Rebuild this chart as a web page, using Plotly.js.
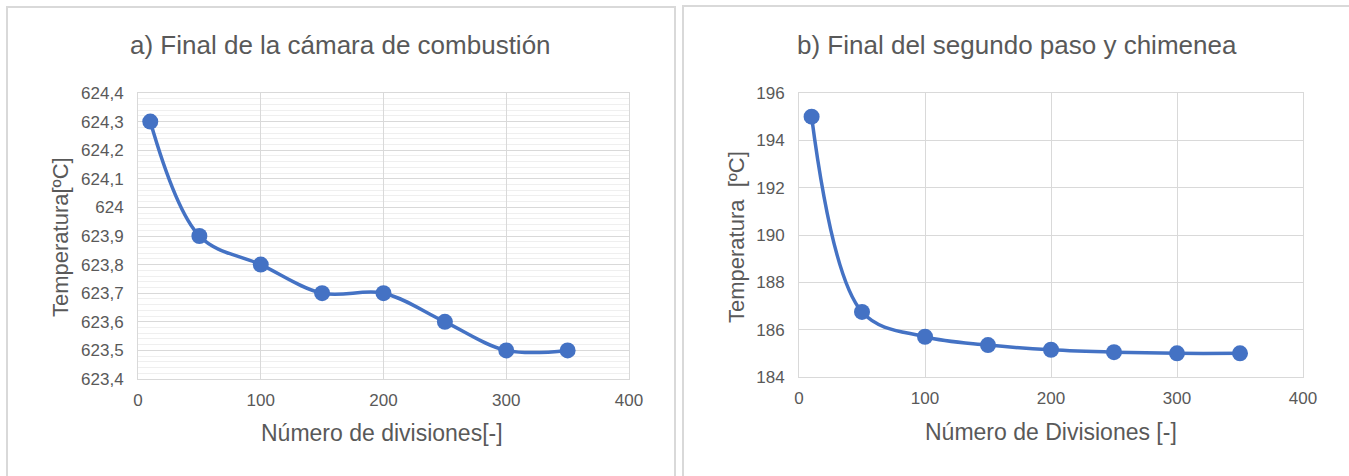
<!DOCTYPE html>
<html>
<head>
<meta charset="utf-8">
<script src="https://cdn.plot.ly/plotly-3.0.1.min.js"></script>
<style>html,body{margin:0;padding:0;background:#fff;}#chart{width:1349px;height:476px;}</style>
</head>
<body>
<div id="chart"></div>
<script>
const divisions = [10, 50, 100, 150, 200, 250, 300, 350];
const tempCamara = [624.3, 623.9, 623.8, 623.7, 623.7, 623.6, 623.5, 623.5];
const tempChimenea = [195.0, 186.75, 185.7, 185.35, 185.15, 185.05, 185.0, 185.0];
const titleA = "a) Final de la cámara de combustión";
const titleB = "b) Final del segundo paso y chimenea";
const xTitleA = "Número de divisiones[-]";
const xTitleB = "Número de Divisiones [-]";
const yTitleA = "Temperatura[ºC]";
const yTitleB = "Temperatura  [ºC]";

const W = 1349, H = 476;
const px = v => v / W;
const py = v => 1 - v / H;
const blue = "#4472C4";
const grey = "#595959";
const gridC = "#d9d9d9";
const fontFam = "'Liberation Sans', Arial, sans-serif";

const traceStyle = {
  mode: "lines+markers",
  line: {color: blue, width: 3.5, shape: "spline", smoothing: 1},
  marker: {color: blue, size: 16},
  hoverinfo: "x+y",
  showlegend: false
};

const data = [
  Object.assign({x: divisions, y: tempCamara, xaxis: "x", yaxis: "y"}, traceStyle),
  Object.assign({x: divisions, y: tempChimenea, xaxis: "x2", yaxis: "y2"}, traceStyle)
];

const axisBase = {
  showgrid: true, gridcolor: gridC, gridwidth: 1,
  showline: true, linecolor: gridC, linewidth: 1, mirror: true,
  zeroline: false, ticks: "",
  tickfont: {family: fontFam, size: 17, color: grey}
};

const layout = {
  width: W, height: H,
  margin: {l: 0, r: 0, t: 0, b: 0},
  paper_bgcolor: "#fff", plot_bgcolor: "#fff",
  separators: ",.",
  font: {family: fontFam, color: grey},
  xaxis: Object.assign({}, axisBase, {domain: [px(138), px(629)], range: [0, 400], dtick: 100, anchor: "y", ticklabelstandoff: 6}),
  yaxis: Object.assign({}, axisBase, {domain: [py(379), py(93)], range: [623.4, 624.4], dtick: 0.1, tick0: 623.4, anchor: "x",
    minor: {dtick: 0.02, showgrid: true, gridcolor: "#efefef", gridwidth: 1}, ticklabelstandoff: 10}),
  xaxis2: Object.assign({}, axisBase, {domain: [px(799), px(1303)], range: [0, 400], dtick: 100, anchor: "y2", ticklabelstandoff: 6}),
  yaxis2: Object.assign({}, axisBase, {domain: [py(377), py(93)], range: [184, 196], dtick: 2, anchor: "x2", ticklabelstandoff: 10}),
  shapes: [
    {type: "rect", xref: "paper", yref: "paper", x0: px(7), x1: px(675), y0: -0.1, y1: py(7), line: {color: "#d9d9d9", width: 2}, fillcolor: "rgba(0,0,0,0)", layer: "below"},
    {type: "rect", xref: "paper", yref: "paper", x0: px(683), x1: 1.1, y0: -0.1, y1: py(6), line: {color: "#d9d9d9", width: 2}, fillcolor: "rgba(0,0,0,0)", layer: "below"}
  ],
  annotations: [
    {text: titleA, xref: "paper", yref: "paper", x: px(340), y: py(45), showarrow: false, xanchor: "center", yanchor: "middle", font: {size: 26, color: grey, family: fontFam}},
    {text: titleB, xref: "paper", yref: "paper", x: px(1017), y: py(45), showarrow: false, xanchor: "center", yanchor: "middle", font: {size: 26, color: grey, family: fontFam}},
    {text: xTitleA, xref: "paper", yref: "paper", x: px(382), y: py(433), showarrow: false, xanchor: "center", yanchor: "middle", font: {size: 23, color: grey, family: fontFam}},
    {text: xTitleB, xref: "paper", yref: "paper", x: px(1051), y: py(432), showarrow: false, xanchor: "center", yanchor: "middle", font: {size: 23, color: grey, family: fontFam}},
    {text: yTitleA, xref: "paper", yref: "paper", x: px(60), y: py(237), showarrow: false, textangle: -90, xanchor: "center", yanchor: "middle", font: {size: 22, color: grey, family: fontFam}},
    {text: yTitleB, xref: "paper", yref: "paper", x: px(736), y: py(237), showarrow: false, textangle: -90, xanchor: "center", yanchor: "middle", font: {size: 22, color: grey, family: fontFam}}
  ]
};

Plotly.newPlot("chart", data, layout, {displayModeBar: false, staticPlot: true});
</script>
</body>
</html>
